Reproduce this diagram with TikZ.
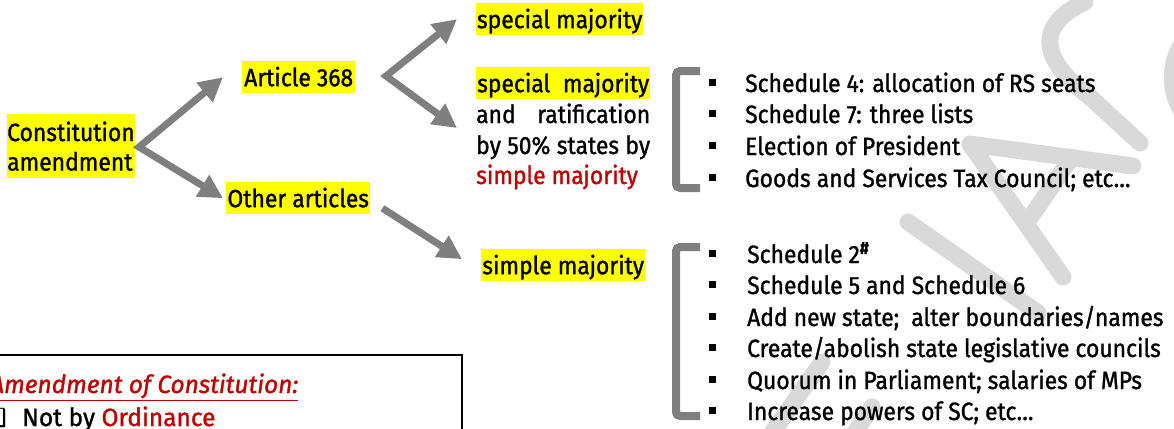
\documentclass[tikz,border=0pt]{standalone}
\usepackage{fontspec}
\setmainfont{Fira Sans}[FakeStretch=0.915,FakeBold=1.2]
\newfontfamily\boxfont{Fira Sans}[FakeStretch=0.98,FakeBold=1.2]
\newfontfamily\symfont{DejaVu Sans}
\usetikzlibrary{arrows.meta}
\definecolor{hlyellow}{HTML}{FFFF00}
\definecolor{arrgray}{HTML}{7F7F7F}
\definecolor{txtred}{HTML}{C00000}
\definecolor{wmgray}{HTML}{D9D9D9}
\begin{document}
\begin{tikzpicture}[x=1pt,y=-1pt,
  every node/.style={inner sep=0pt, font=\fontsize{25}{30}\selectfont},
  hlbox/.style={fill=hlyellow, text height=24pt, text depth=6pt, minimum height=32pt, anchor=north west},
  txt/.style={anchor=base west},
  bigarrow/.style={draw=arrgray, line width=7pt, -{Triangle[length=24pt,width=24pt]}},
  forkarrow/.style={draw=arrgray, line width=7pt, {Triangle[length=24pt,width=24pt]}-{Triangle[length=24pt,width=24pt]}, line join=miter},
  bracketline/.style={draw=arrgray, line width=8pt, rounded corners=4pt},
  bulletsq/.style={fill=black, minimum size=7pt, anchor=center},
  wmark/.style={draw=wmgray, line width=17pt, line cap=round, line join=round},
]
\useasboundingbox (0,0) rectangle (1174,428);
% watermark
\draw[wmark] (822,362) -- (760,450);
\draw[wmark] (872,407) -- (850,440);
\draw[wmark] (908,222) -- (1038,313);
\draw[wmark] (1063,277) -- (970,144) -- (1133,166);
\draw[wmark] (1030,218) -- (1072,157);
\draw[wmark] (1085,2) .. controls (1035,25) and (1040,60) .. (1090,97) -- (1140,143);
\draw[wmark] (1185,40) .. controls (1168,60) and (1168,95) .. (1185,115);

% main nodes
\node[fill=hlyellow, minimum width=124pt, minimum height=64pt, anchor=north west, align=left, font=\fontsize{25}{29.5}\selectfont] (ca) at (7,114) {Constitution\\amendment};
\node[hlbox, minimum width=113pt] (art) at (242,61) {Article 368};
\node[hlbox, minimum width=144pt] (oth) at (226,182) {Other articles};
\node[hlbox, minimum width=167pt] (sm1) at (476,3) {special majority};
\node[hlbox, minimum width=174pt] (sm2) at (476,67) {\makebox[172pt][s]{special majority}};
\node[txt] (rat) at (476,123) {\makebox[174pt][s]{and ratification}};
\node[txt] (pct) at (476,154) {\makebox[174pt][s]{by 50\% states by}};
\node[txt, text=txtred] (smp) at (476,184) {simple majority};
\node[hlbox, minimum width=164pt] (sm3) at (481,249) {simple majority};

% arrows
\coordinate (f1) at (139,147);
\draw[forkarrow] ([xshift=-19pt]art.west) -- (f1) -- ([xshift=-3pt]oth.west);
\coordinate (f2) at (386,76);
\draw[forkarrow] ([xshift=-19pt]sm1.west) -- (f2) -- ([shift={(-19,5)}]rat.base west);
\draw[bigarrow] ([shift={(12,10)}]oth.east) -- ([shift={(-19,-6)}]sm3.west);

% brackets
\draw[bracketline] (700,71) -- (676,71) -- (676,188) -- (700,188);
\draw[bracketline] (700,247) -- (676,247) -- (676,416) -- (700,416);

% list 1
\node[bulletsq] (b11) at (712,82) {};
\node[bulletsq] (b12) at (712,113) {};
\node[bulletsq] (b13) at (712,145) {};
\node[bulletsq] (b14) at (712,177) {};
\node[txt] (l11) at (745,92) {Schedule 4: allocation of RS seats};
\node[txt] (l12) at (745,123) {Schedule 7: three lists};
\node[txt] (l13) at (745,155) {Election of President};
\node[txt] (l14) at (745,187) {Goods and Services Tax Council; etc…};

% list 2
\node[bulletsq] (b21) at (712,253) {};
\node[bulletsq] (b22) at (712,284) {};
\node[bulletsq] (b23) at (712,316) {};
\node[bulletsq] (b24) at (712,347) {};
\node[bulletsq] (b25) at (712,379) {};
\node[bulletsq] (b26) at (712,410) {};
\node[txt] (l21) at (747,263) {Schedule 2\textsuperscript{\textbf{\#}}};
\node[txt] (l22) at (747,294) {Schedule 5 and Schedule 6};
\node[txt] (l23) at (747,326) {Add new state;~ alter boundaries/names};
\node[txt] (l24) at (747,357) {Create/abolish state legislative councils};
\node[txt] (l25) at (747,389) {Quorum in Parliament; salaries of MPs};
\node[txt] (l26) at (747,420) {Increase powers of SC; etc…};

% bottom box
\draw[line width=2pt] (-10,355) rectangle (462,445);
\node[txt, text=txtred, font=\fontsize{25}{30}\selectfont\boxfont\itshape] (amd) at (-10,393) {\underline{Amendment of Constitution:}};
\node[anchor=base east] (cb) at (7,426) {\symfont ❑};
\node[txt, font=\fontsize{25}{30}\selectfont\boxfont] (nb) at (22,426) {Not by \textcolor{txtred}{Ordinance}};
\end{tikzpicture}
\end{document}
